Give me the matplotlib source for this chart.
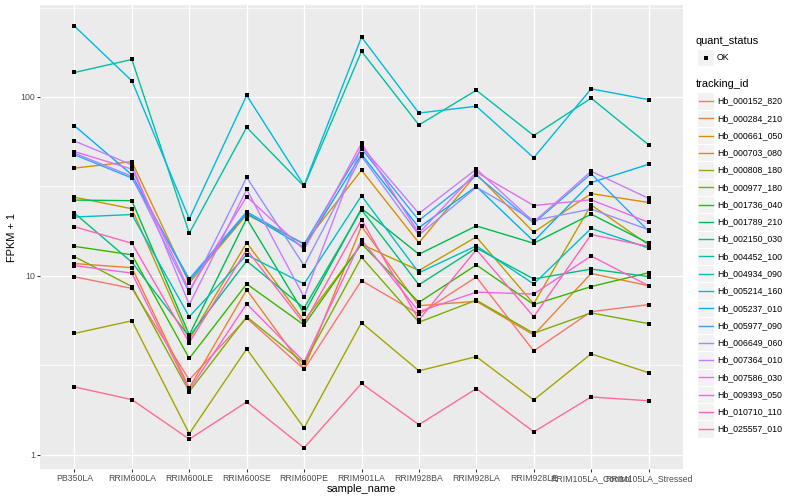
import numpy as np
import matplotlib
matplotlib.use('Agg')
import matplotlib.pyplot as plt
from matplotlib.patches import Rectangle
from matplotlib.lines import Line2D

plt.rcParams['font.family'] = ['Liberation Sans', 'DejaVu Sans']

samples = ['PB350LA', 'RRIM600LA', 'RRIM600LE', 'RRIM600SE', 'RRIM600PE',
           'RRIM901LA', 'RRIM928BA', 'RRIM928LA', 'RRIM928LE',
           'RRIM105LA_Control', 'RRIM105LA_Stressed']

tracking_ids = ['Hb_000152_820', 'Hb_000284_210', 'Hb_000661_050', 'Hb_000703_080',
                'Hb_000808_180', 'Hb_000977_180', 'Hb_001736_040', 'Hb_001789_210',
                'Hb_002150_030', 'Hb_004452_100', 'Hb_004934_090', 'Hb_005214_160',
                'Hb_005237_010', 'Hb_005977_090', 'Hb_006649_060', 'Hb_007364_010',
                'Hb_007586_030', 'Hb_009393_050', 'Hb_010710_110', 'Hb_025557_010']

# ggplot default hue palette, 20 levels
colours = ['#F8766D', '#EA8331', '#D89000', '#C09B00', '#A3A500', '#7CAE00',
           '#39B600', '#00BB4E', '#00BF7D', '#00C1A3', '#00BFC4', '#00BAE0',
           '#00B0F6', '#35A2FF', '#9590FF', '#C77CFF', '#E76BF3', '#FA62DB',
           '#FF62BC', '#FF6C91']

# FPKM + 1, one list per gene, in sample order
hb_000152_820 = [9.87, 8.5, 2.62, 5.8, 3.0, 9.4, 6.1, 9.84, 3.8, 6.3, 6.9]
hb_000284_210 = [11.7, 11.1, 2.36, 8.35, 3.03, 18.9, 6.8, 7.2, 4.67, 10.3, 8.8]
hb_000661_050 = [40, 43.5, 9.1, 22.0, 15.1, 38.9, 15.3, 37, 17.5, 28.8, 25.7]
hb_000703_080 = [27.5, 23.7, 4.4, 15.3, 5.6, 15.0, 10.7, 16.5, 6.97, 24.9, 14.9]
hb_000808_180 = [4.76, 5.6, 1.31, 3.9, 1.41, 5.47, 2.94, 3.53, 2.02, 3.66, 2.87]
hb_000977_180 = [12.8, 8.7, 2.25, 5.9, 3.24, 12.7, 5.5, 7.3, 4.77, 6.2, 5.4]
hb_001736_040 = [14.6, 13.1, 3.45, 9.0, 5.3, 15.1, 7.1, 11.5, 6.9, 8.7, 10.4]
hb_001789_210 = [26.5, 26.3, 4.67, 20.9, 6.15, 23.8, 13.2, 19.0, 15.2, 22.1, 15.2]
hb_002150_030 = [22.4, 11.9, 4.57, 12.1, 6.6, 23.4, 8.9, 14.3, 9.6, 10.9, 9.9]
hb_004452_100 = [137, 162, 17.3, 67.6, 31.6, 180, 69.7, 109, 60.8, 98.4, 54]
hb_004934_090 = [21.3, 22.0, 5.9, 13.1, 9.0, 28.0, 10.4, 14.7, 9.0, 18.4, 14.3]
hb_005214_160 = [249, 123, 20.8, 102, 32, 216, 81.3, 88.7, 45.7, 111, 96.6]
hb_005237_010 = [69, 36.7, 9.4, 22.4, 14.4, 47.8, 18.6, 31.6, 15.6, 33.2, 42]
hb_005977_090 = [47.5, 35.2, 9.6, 22.8, 15.0, 51.4, 20.4, 36.5, 19.7, 37.2, 17.8]
hb_006649_060 = [48.5, 36.0, 8.05, 35.5, 11.4, 46.6, 16.9, 31.3, 20.4, 23.6, 18.1]
hb_007364_010 = [56.7, 41.7, 6.9, 30.4, 7.6, 53, 22.3, 39.5, 20.0, 38.4, 27.1]
hb_007586_030 = [49.5, 39.5, 8.3, 27.7, 14.0, 55, 17.3, 38, 24.7, 26.6, 19.9]
hb_009393_050 = [11.4, 10.35, 2.30, 6.97, 3.3, 15.9, 6.3, 8.1, 7.9, 12.9, 8.8]
hb_010710_110 = [18.8, 15.2, 4.23, 14.0, 5.4, 20.6, 5.66, 14.0, 5.9, 17.0, 14.6]
hb_025557_010 = [2.39, 2.03, 1.22, 1.97, 1.09, 2.5, 1.47, 2.34, 1.34, 2.1, 2.0]

series = [hb_000152_820, hb_000284_210, hb_000661_050, hb_000703_080,
          hb_000808_180, hb_000977_180, hb_001736_040, hb_001789_210,
          hb_002150_030, hb_004452_100, hb_004934_090, hb_005214_160,
          hb_005237_010, hb_005977_090, hb_006649_060, hb_007364_010,
          hb_007586_030, hb_009393_050, hb_010710_110, hb_025557_010]

W, H = 800, 500
fig = plt.figure(figsize=(8, 5), dpi=100)
# panel in pixels: x 40..683, y 5..469
ax = fig.add_axes([40 / W, 1 - 469 / H, 643 / W, 464 / H])
ax.set_facecolor('#EBEBEB')

x = np.arange(len(samples))
for vals, c in zip(series, colours):
    ax.plot(x, vals, color=c, lw=1.0, zorder=2)
for vals in series:
    ax.plot(x, vals, ls='none', marker='s', ms=2.3, mew=0, color='black', zorder=3)

ax.set_yscale('log')
lo = np.log10(min(min(s) for s in series))
hi = np.log10(max(max(s) for s in series))
pad = 0.05 * (hi - lo)
ax.set_ylim(10 ** (lo - pad), 10 ** (hi + pad))
ax.set_xlim(-0.6, len(samples) - 1 + 0.6)

ax.set_yticks([1, 10, 100], ['1', '10', '100'])
ax.set_yticks([10 ** 0.5, 10 ** 1.5, 10 ** 2.5], minor=True)
ax.yaxis.set_minor_formatter(plt.NullFormatter())
ax.set_xticks(x, samples)

ax.grid(which='major', color='white', lw=1.0)
ax.grid(which='minor', axis='y', color='white', lw=0.5)
ax.set_axisbelow(True)
for s in ax.spines.values():
    s.set_visible(False)

ax.tick_params(which='major', length=2.0, width=0.75, color='#333333',
               labelsize=6.3, labelcolor='#4D4D4D', pad=1.6)
ax.tick_params(which='minor', length=0)

ax.set_xlabel('sample_name', fontsize=7.9, va='top')
ax.xaxis.set_label_coords(0.5, -15 / 464)
ax.set_ylabel('FPKM + 1', fontsize=7.9)
ax.yaxis.set_label_coords(-22.5 / 643, 0.5)


# legends, drawn in figure pixel coordinates
def px(xp, yp):
    return xp / W, 1 - yp / H


def key_box(top):
    r = Rectangle(px(697, top + 17.3), 17.3 / W, 17.3 / H, transform=fig.transFigure,
                  facecolor='#F2F2F2', edgecolor='white', lw=0.8)
    fig.add_artist(r)


fig.text(*px(696, 41), 'quant_status', fontsize=7.9, va='center', ha='left')
key_box(49)
fig.add_artist(Line2D([705.6 / W], [1 - 57.6 / H], transform=fig.transFigure,
                      marker='s', ms=2.3, mew=0, color='black', ls='none'))
fig.text(*px(717, 57.6), 'OK', fontsize=6.3, va='center', ha='left')

fig.text(*px(696, 84), 'tracking_id', fontsize=7.9, va='center', ha='left')
step = 17.27
for i, (tid, c) in enumerate(zip(tracking_ids, colours)):
    cy = 101 + i * step
    key_box(cy - 8.65)
    fig.add_artist(Line2D([698.5 / W, 712.5 / W], [1 - cy / H, 1 - cy / H],
                          transform=fig.transFigure, color=c, lw=1.0))
    fig.text(*px(717, cy), tid, fontsize=6.3, va='center', ha='left')

fig.savefig('out.png', dpi=100)
